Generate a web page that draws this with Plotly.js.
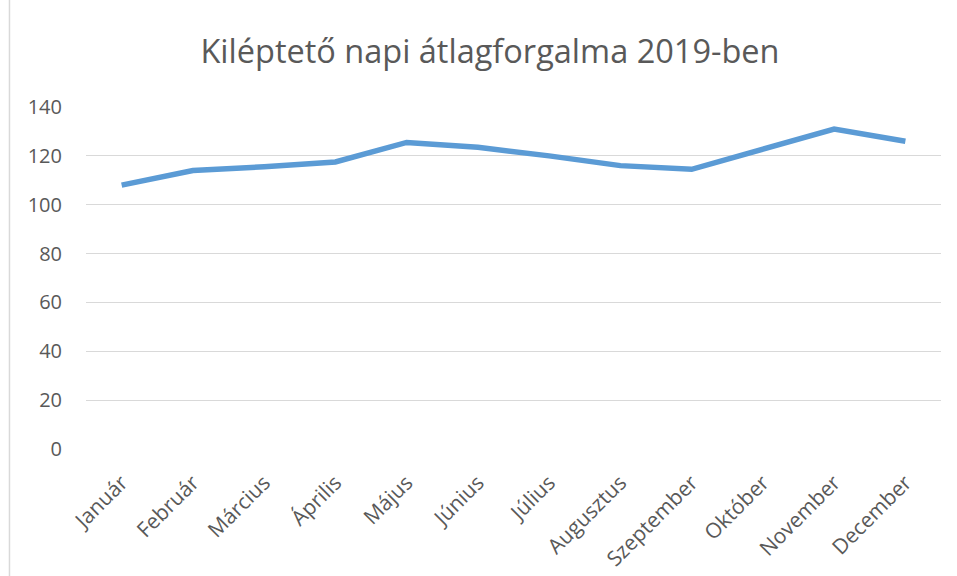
<!DOCTYPE html>
<html><head><meta charset="utf-8">
<script src="https://cdn.plot.ly/plotly-3.0.1.min.js"></script>
<style>html,body{margin:0;padding:0;background:#fff}#c{width:957px;height:576px}</style>
</head><body><div id="c"></div>
<script>
const months = ["Január","Február","Március","Április","Május","Június","Július","Augusztus","Szeptember","Október","November","December"];
const forgalom = [108, 114, 115.5, 117.5, 125.5, 123.5, 120, 116, 114.5, 123, 131, 126];
const yTicks = [0, 20, 40, 60, 80, 100, 120, 140];
const chartTitle = "Kiléptető napi átlagforgalma 2019-ben";

const font = "Open Sans, Liberation Sans, sans-serif";
Plotly.newPlot("c", [{
  x: months, y: forgalom, type: "scatter", mode: "lines",
  line: {color: "#5B9BD5", width: 5.5, shape: "linear"},
  hoverinfo: "x+y"
}], {
  width: 957, height: 576,
  margin: {l: 86, r: 16, t: 107, b: 127},
  paper_bgcolor: "#fff", plot_bgcolor: "#fff",
  showlegend: false,
  title: {text: chartTitle, font: {family: font, size: 32.5, color: "#595959"}, x: 0.512, xanchor: "center", y: 0.91, yanchor: "middle"},
  xaxis: {type: "category", range: [-0.5, 11.5], showgrid: false, zeroline: false, showline: false,
    tickangle: -45, tickfont: {family: font, size: 21, color: "#595959"},
    ticks: "outside", ticklen: 12, tickcolor: "rgba(0,0,0,0)"},
  yaxis: {range: [0, 140], tickvals: yTicks, ticktext: yTicks.map(String), showgrid: true, gridcolor: "#d9d9d9", gridwidth: 1.3,
    zeroline: false, showline: false, tickfont: {family: font, size: 20, color: "#595959"},
    ticks: "outside", ticklen: 19, tickcolor: "rgba(0,0,0,0)"},
  shapes: [{type: "line", xref: "paper", yref: "paper", x0: -0.0895, x1: -0.0895, y0: -0.6, y1: 1.6, line: {color: "#d9d9d9", width: 1.5}}]
}, {displayModeBar: false});
</script></body></html>
